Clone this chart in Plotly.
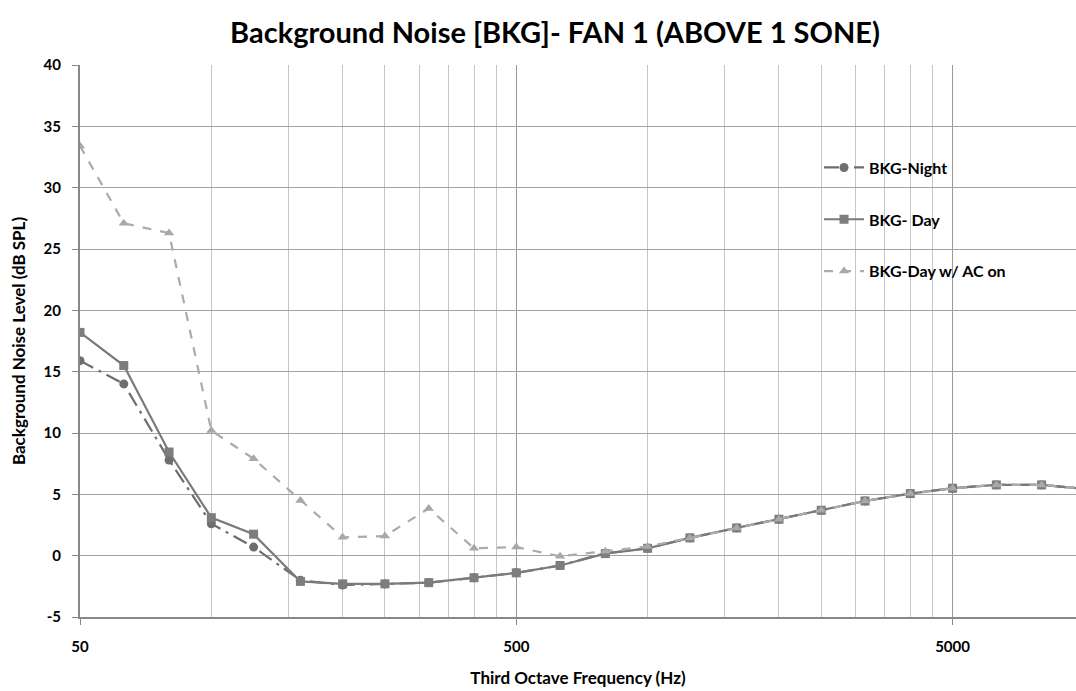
import numpy as np
import plotly.graph_objects as go

# Third-octave band centre frequencies (Hz)
freq = [50, 63, 80, 100, 125, 160, 200, 250, 315, 400, 500, 630, 800,
        1000, 1250, 1600, 2000, 2500, 3150, 4000, 5000, 6300, 8000, 10000]

# Background noise levels (dB SPL)
bkg_night = [15.9, 14.0, 7.8, 2.6, 0.7, -2.0, -2.4, -2.3, -2.2, -1.8, -1.4, -0.8, 0.2,
             0.6, 1.45, 2.26, 2.97, 3.7, 4.46, 5.06, 5.5, 5.77, 5.77, 5.45]
bkg_day = [18.2, 15.5, 8.45, 3.1, 1.75, -2.1, -2.3, -2.3, -2.2, -1.8, -1.4, -0.8, 0.17,
           0.6, 1.45, 2.26, 2.97, 3.7, 4.46, 5.06, 5.5, 5.77, 5.77, 5.45]
bkg_day_ac = [33.4, 27.1, 26.3, 10.2, 7.9, 4.5, 1.5, 1.6, 3.85, 0.6, 0.7, -0.05, 0.35,
              0.75, 1.45, 2.26, 2.97, 3.7, 4.46, 5.06, 5.5, 5.77, 5.77, 5.45]

x_ticks = [50, 500, 5000]
x_minor = list(range(100, 500, 50)) + list(range(1000, 5000, 500))
y_ticks = list(range(-5, 41, 5))

FONT = "Lato"

fig = go.Figure()
fig.add_trace(go.Scatter(
    x=freq, y=bkg_night, name="<b>BKG-Night</b>", mode="lines+markers",
    line=dict(color="#6e6e6e", width=2.2, dash="longdashdot"),
    marker=dict(symbol="circle", size=9, color="#6e6e6e"),
    legendgroup="a"))
fig.add_trace(go.Scatter(
    x=freq, y=bkg_day, name="<b>BKG- Day</b>", mode="lines+markers",
    line=dict(color="#7a7a7a", width=2.2),
    marker=dict(symbol="square", size=9, color="#7d7d7d"),
    legendgroup="b"))
fig.add_trace(go.Scatter(
    x=freq, y=bkg_day_ac, name="<b>BKG-Day w/ AC on</b>", mode="lines+markers",
    line=dict(color="#ababab", width=2.2, dash="dash"),
    marker=dict(symbol="triangle-up", size=9, color="#a8a8a8"),
    legendgroup="c"))

x_lo = np.log10(50)
x_hi = x_lo + (1076 - 79.5) / 436.5

fig.update_layout(
    width=1076, height=691,
    paper_bgcolor="white", plot_bgcolor="white",
    margin=dict(l=80, r=0, t=65, b=74),
    font=dict(family=FONT, color="#000000"),
    title=dict(text="<b>Background Noise [BKG]- FAN 1 (ABOVE 1 SONE)</b>",
               x=555 / 1076, xref="container", xanchor="center",
               y=1 - 33 / 691, yref="container", yanchor="middle",
               font=dict(size=29, family=FONT)),
    showlegend=True,
    legend=dict(x=0.742, y=0.845, xanchor="left", yanchor="top",
                bgcolor="rgba(0,0,0,0)", font=dict(size=16, family=FONT),
                tracegroupgap=28, itemwidth=40),
    xaxis=dict(
        type="log", range=[x_lo, x_hi],
        tickmode="array", tickvals=x_ticks,
        ticktext=[f"<b>{v}</b>" for v in x_ticks],
        tickfont=dict(size=15, family=FONT), ticks="outside", ticklen=6,
        ticklabelstandoff=9,
        tickcolor="#888888",
        showgrid=True, gridcolor="#9a9a9a", gridwidth=1.3,
        showline=True, linecolor="#888888", linewidth=2,
        zeroline=False,
        minor=dict(tickmode="array", tickvals=x_minor, showgrid=True,
                   gridcolor="#c6c6c6", gridwidth=1.3, ticks=""),
        title=dict(text="<b>Third Octave Frequency (Hz)</b>",
                   font=dict(size=17, family=FONT), standoff=18),
    ),
    yaxis=dict(
        range=[-5, 40], tickmode="array", tickvals=y_ticks,
        ticktext=[f"<b>{v}</b>" for v in y_ticks],
        tickfont=dict(size=15, family=FONT), ticks="outside", ticklen=6,
        ticklabelstandoff=8,
        tickcolor="#888888",
        showgrid=True, gridcolor="#a3a3a3", gridwidth=1.3,
        showline=True, linecolor="#888888", linewidth=2,
        zeroline=False,
        title=dict(text="<b>Background Noise Level (dB SPL)</b>",
                   font=dict(size=17, family=FONT), standoff=14),
    ),
)

fig.write_html("out.html")
